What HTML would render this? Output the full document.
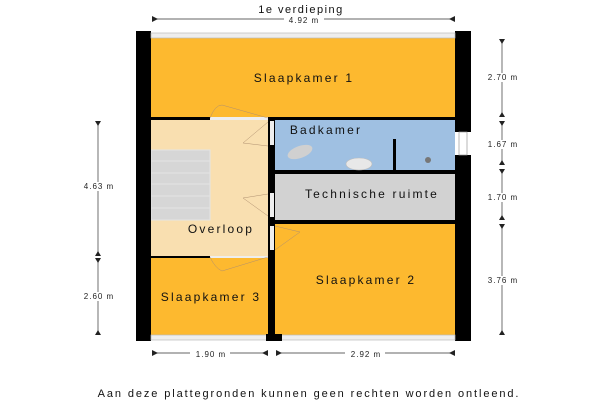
<!DOCTYPE html>
<html><head><meta charset="utf-8"><style>
html,body{margin:0;padding:0;background:#fff;width:600px;height:400px;overflow:hidden}
svg{display:block;font-family:"Liberation Sans",sans-serif}
</style></head><body>
<svg width="600" height="400" viewBox="0 0 600 400" xmlns="http://www.w3.org/2000/svg">
<rect x="151" y="38" width="304" height="80" fill="#fdb92f"/>
<rect x="151" y="120" width="117" height="137" fill="#f9dfb0"/>
<rect x="275" y="120" width="180" height="51" fill="#9fc0e2"/>
<rect x="275" y="174" width="180" height="46" fill="#d2d2d2"/>
<rect x="275" y="224" width="180" height="111" fill="#fdb92f"/>
<rect x="151" y="258" width="117" height="77" fill="#fdb92f"/>
<g fill="#d6d6d6" stroke="#e4e4e4" stroke-width="1">
<rect x="151" y="150" width="59" height="11"/><rect x="151" y="161" width="59" height="12"/>
<rect x="151" y="173" width="59" height="11"/><rect x="151" y="184" width="59" height="12"/>
<rect x="151" y="196" width="59" height="12"/><rect x="151" y="208" width="59" height="12"/>
</g>
<rect x="136" y="31" width="15" height="310" fill="#000"/>
<rect x="455" y="31" width="16" height="101" fill="#000"/>
<rect x="455" y="155" width="16" height="186" fill="#000"/>
<rect x="459" y="132" width="8" height="23" fill="#fff" stroke="#999" stroke-width="0.7"/>
<rect x="151" y="33" width="304" height="5" fill="#eee" stroke="#bbb" stroke-width="0.7"/>
<rect x="151" y="335" width="116" height="5" fill="#eee" stroke="#bbb" stroke-width="0.7"/>
<rect x="281" y="335" width="174" height="5" fill="#eee" stroke="#bbb" stroke-width="0.7"/>
<rect x="266" y="334" width="16" height="7" fill="#000"/>
<rect x="151" y="117" width="59" height="3" fill="#000"/>
<rect x="268" y="117" width="187" height="3" fill="#000"/>
<rect x="151" y="256" width="59" height="2" fill="#000"/>
<rect x="268" y="117" width="7" height="218" fill="#000"/>
<rect x="270" y="121" width="4" height="24" fill="#eee"/>
<rect x="270" y="193" width="4" height="24" fill="#eee"/>
<rect x="270" y="226" width="4" height="24" fill="#eee"/>
<rect x="275" y="170" width="180" height="4" fill="#000"/>
<rect x="275" y="220" width="180" height="4" fill="#000"/>
<rect x="393" y="139" width="3" height="33" fill="#000"/>
<rect x="210" y="117" width="58" height="3" fill="#eee"/>
<rect x="210" y="256" width="58" height="2" fill="#eee"/>
<g fill="none" stroke="#b09070" stroke-width="0.5">
<path d="M210 118 Q215 105 222 105 L268 118"/>
<path d="M268 122 L243 143 L268 146"/>
<path d="M268 194 L243 198 L268 216"/>
<path d="M275 226 L300 232 L275 250"/>
<path d="M210 257 Q215 268 222 271 L268 257"/>
</g>
<ellipse cx="300" cy="152" rx="13" ry="6" fill="#d0d0d0" transform="rotate(-20 300 152)"/>
<ellipse cx="359" cy="164" rx="13" ry="6" fill="#e8e8e8" stroke="#bbb" stroke-width="0.6"/>
<circle cx="428" cy="160" r="3" fill="#777"/>
<g font-size="12" fill="#111" text-anchor="middle" letter-spacing="2.2">
<text x="304" y="82">Slaapkamer 1</text>
<text x="326" y="134" font-size="12">Badkamer</text>
<text x="372" y="198">Technische ruimte</text>
<text x="221" y="233">Overloop</text>
<text x="366" y="284">Slaapkamer 2</text>
<text x="211" y="301">Slaapkamer 3</text>
</g>
<text x="301" y="13" font-size="11" letter-spacing="1.5" text-anchor="middle" fill="#111">1e verdieping</text>
<text x="309" y="397" font-size="11" letter-spacing="1.9" text-anchor="middle" fill="#111">Aan deze plattegronden kunnen geen rechten worden ontleend.</text>
<g stroke="#333" stroke-width="0.7" fill="none">
<line x1="152" y1="19" x2="455" y2="19"/>
<line x1="152" y1="353" x2="268" y2="353"/>
<line x1="276" y1="353" x2="455" y2="353"/>
<line x1="98" y1="121" x2="98" y2="256"/>
<line x1="98" y1="258" x2="98" y2="335"/>
<line x1="502" y1="39" x2="502" y2="117"/>
<line x1="502" y1="121" x2="502" y2="165"/>
<line x1="502" y1="169" x2="502" y2="220"/>
<line x1="502" y1="224" x2="502" y2="335"/>
</g>
<g fill="#222">
<path d="M152 16v6l6-3z"/><path d="M455 16v6l-6-3z"/>
<path d="M152 350v6l6-3z"/><path d="M268 350v6l-6-3z"/>
<path d="M276 350v6l6-3z"/><path d="M455 350v6l-6-3z"/>
<path d="M95 121h6l-3 5z"/><path d="M95 256h6l-3-5z"/>
<path d="M95 258h6l-3 5z"/><path d="M95 335h6l-3-5z"/>
<path d="M499 39h6l-3 5z"/><path d="M499 117h6l-3-5z"/>
<path d="M499 121h6l-3 5z"/><path d="M499 165h6l-3-5z"/>
<path d="M499 169h6l-3 5z"/><path d="M499 220h6l-3-5z"/>
<path d="M499 224h6l-3 5z"/><path d="M499 335h6l-3-5z"/>
</g>
<g font-size="8" fill="#222" text-anchor="middle" letter-spacing="1">
<rect x="284" y="15" width="40" height="9" fill="#fff"/><text x="304" y="23">4.92 m</text>
<rect x="190" y="349" width="40" height="9" fill="#fff"/><text x="211" y="357">1.90 m</text>
<rect x="345" y="349" width="40" height="9" fill="#fff"/><text x="366" y="357">2.92 m</text>
<rect x="78" y="182" width="40" height="9" fill="#fff"/><text x="99" y="189">4.63 m</text>
<rect x="78" y="292" width="40" height="9" fill="#fff"/><text x="99" y="299">2.60 m</text>
<rect x="482" y="73" width="40" height="9" fill="#fff"/><text x="503" y="80">2.70 m</text>
<rect x="482" y="140" width="40" height="9" fill="#fff"/><text x="503" y="147">1.67 m</text>
<rect x="482" y="193" width="40" height="9" fill="#fff"/><text x="503" y="200">1.70 m</text>
<rect x="482" y="276" width="40" height="9" fill="#fff"/><text x="503" y="283">3.76 m</text>
</g>
</svg>
</body></html>
